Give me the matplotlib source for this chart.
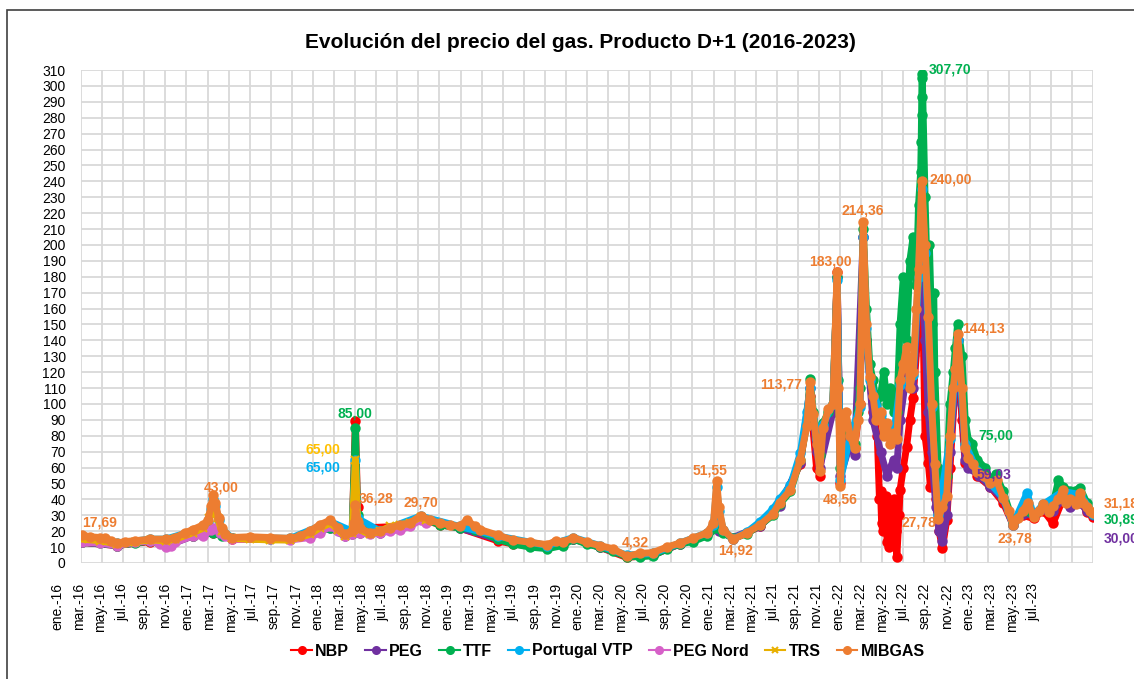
import numpy as np
import matplotlib.pyplot as plt
from matplotlib.patches import Rectangle

plt.rcParams['font.family'] = ['Liberation Sans', 'DejaVu Sans']

# x positions: months counted from the "ene.-16" axis label
mibgas_m = [2.3, 3.0, 4.0, 4.4, 5.0, 5.5, 6.3, 7.2, 8.6, 10.0, 10.9, 11.8, 12.5, 13.5, 13.9, 14.2, 14.4, 14.6,
            14.9, 15.2, 15.5, 16.1, 17.8, 19.6, 21.5, 22.4, 23.3, 24.2, 25.2, 25.9, 26.5, 27.2, 27.4, 27.5,
            27.7, 27.9, 28.8, 29.8, 30.7, 31.6, 32.5, 33.5, 34.4, 35.3, 36.2, 37.1, 37.8, 38.5, 39.0, 40.6,
            42.0, 43.6, 45.2, 46.0, 46.6, 47.6, 48.8, 50.0, 51.2, 52.5, 53.7, 54.9, 56.2, 57.4, 58.6, 59.9,
            60.5, 60.8, 61.0, 61.4, 62.3, 63.6, 64.8, 66.0, 66.6, 67.6, 68.5, 69.1, 69.4, 69.7, 70.0, 70.3,
            70.6, 71.1, 71.5, 71.9, 72.0, 72.2, 72.4, 72.7, 73.1, 73.5, 73.8, 74.0, 74.3, 74.6, 74.9, 75.2,
            75.5, 75.9, 76.2, 76.5, 76.8, 77.1, 77.4, 77.7, 78.0, 78.3, 78.6, 78.9, 79.2, 79.4, 79.7, 80.0,
            80.3, 80.6, 80.9, 81.2, 81.6, 82.0, 82.3, 82.6, 82.8, 83.0, 83.4, 83.7, 84.0, 84.4, 84.8, 85.4,
            86.0, 86.6, 87.2, 87.7, 88.1, 88.6, 89.0, 89.5, 90.0, 90.5, 90.9, 91.4, 91.8, 92.3, 92.7, 93.0,
            93.4, 93.9, 94.3, 94.6, 94.9, 95.2, 95.5]
mibgas = [17.69, 16.5, 16, 15.5, 14, 12.5, 13.5, 14, 15, 15, 16, 19, 21, 24, 27, 36, 43.0, 38,
          28, 22, 18, 16, 16.5, 16, 15.5, 17, 20, 24, 27, 22, 18, 20, 25, 36.28,
          26, 22, 19, 20, 22, 24, 25, 29.7, 27, 25, 24, 23, 27, 23, 21, 17.5,
          14.5, 13, 11.5, 14, 13, 16, 13, 11, 9, 4.32, 6, 6.5, 10, 12.5, 15.5, 19,
          25, 51.55, 35, 21, 14.92, 19, 24, 31, 38, 46, 65, 86, 113.77, 94, 75, 58,
          85, 97, 100, 183.0, 110, 48.56, 88, 95, 80, 72, 90, 100, 214.36, 150, 117, 105,
          90, 95, 80, 88, 75, 82, 78, 115, 125, 136, 110, 120, 160, 185, 240.0, 200,
          155, 100, 62, 27.78, 35, 42, 80, 110, 122, 144.13, 110, 72, 66, 62, 57, 55,
          50, 52, 41, 33, 23.78, 28, 33, 38, 29, 33, 37, 32, 36, 40, 46, 38,
          40, 37, 44, 38, 35, 33, 31.18]

ttf_m = [2.3, 4.0, 5.5, 7.2, 8.6, 10.0, 10.9, 12.5, 13.5, 14.4, 15.2, 16.1, 19.6, 21.5, 23.3, 25.2, 26.5,
         27.2, 27.5, 27.7, 27.9, 29.8, 31.6, 33.5, 35.3, 37.1, 38.5, 40.6, 42.0, 43.6, 45.2, 46.6, 47.6,
         48.8, 50.0, 51.2, 52.5, 53.7, 54.9, 56.2, 57.4, 58.6, 59.9, 60.8, 61.4, 62.3, 63.6, 64.8, 66.0,
         66.6, 67.6, 68.5, 69.1, 69.4, 69.7, 70.0, 70.3, 70.6, 71.1, 71.5, 71.9, 72.0, 72.2, 72.4, 73.1,
         73.5, 73.8, 74.0, 74.3, 74.6, 74.9, 75.2, 75.5, 75.9, 76.2, 76.5, 76.8, 77.1, 77.4, 77.7, 78.0,
         78.3, 78.6, 78.9, 79.2, 79.4, 79.6, 79.65, 79.68, 79.7, 79.72, 79.74, 80.0, 80.2, 80.4, 80.6,
         80.8, 80.9, 81.2, 81.6, 82.0, 82.3, 82.6, 82.8, 83.0, 83.4, 83.7, 84.0, 84.3, 84.8, 85.5, 86.0,
         86.5, 87.2, 88.1, 89.0, 90.0, 90.9, 91.8, 92.3, 92.7, 93.4, 94.3, 94.9, 95.5]
ttf = [13, 12.5, 11, 12.5, 14, 11, 14, 17, 18, 19, 17, 15.5, 15, 15, 18, 22, 18,
       19, 85.0, 30, 21, 20, 23, 28.5, 24, 22, 21, 15, 12, 10, 9, 11, 15,
       12, 10, 7.5, 4, 4, 4.5, 9, 12, 13.5, 17, 22, 19, 15.5, 18.5, 24, 30,
       37, 45, 65, 87, 116, 95, 80, 68, 88, 95, 100, 180, 115, 60, 90, 80,
       75, 95, 110, 210, 160, 125, 115, 100, 105, 120, 100, 110, 95, 95, 150, 180,
       140, 190, 205, 175, 225, 246, 265, 282, 293, 305, 307.7, 230, 180, 200, 150,
       170, 120, 60, 38, 55, 100, 120, 135, 150, 130, 90, 77, 75, 65, 60, 52,
       56, 45, 26, 33, 30, 36, 37, 52, 48, 45, 47, 38, 30.89]

nbp_m = [2.3, 5.5, 8.6, 10.0, 12.5, 14.4, 16.1, 21.5, 25.2, 27.2, 27.5, 27.7, 27.9, 31.6, 33.5, 35.3,
         37.1, 40.6, 42.0, 45.2, 47.6, 50.0, 52.5, 54.9, 57.4, 59.9, 60.8, 61.4, 62.3, 64.8, 66.6, 68.5,
         69.4, 70.0, 70.3, 70.6, 71.5, 71.9, 72.2, 72.4, 73.1, 73.5, 74.0, 74.3, 74.6, 75.2, 75.6, 75.8,
         75.9, 76.0, 76.1, 76.3, 76.4, 76.5, 76.7, 76.8, 76.9, 77.1, 77.2, 77.3, 77.4, 77.6, 77.7, 78.0,
         78.3, 78.6, 78.9, 79.4, 79.7, 80.0, 80.3, 80.5, 80.7, 81.0, 81.3, 81.6, 82.0, 82.3, 82.8, 83.0,
         83.4, 83.7, 84.0, 84.8, 86.0, 87.2, 88.1, 89.0, 90.0, 90.9, 91.8, 92.7, 93.4, 94.3, 94.9, 95.5]
nbp = [13, 11, 13.5, 11.5, 17, 19, 15, 15, 23, 20, 89, 35, 22, 23, 28, 24,
       22, 14, 12, 9.5, 15, 10, 3.5, 5, 12, 18, 23, 20, 15, 23, 37, 62,
       105, 60, 55, 80, 95, 183, 50, 85, 78, 72, 100, 205, 140, 95, 80, 40,
       45, 25, 20, 35, 42, 13, 10, 30, 35, 40, 25, 20, 4, 30, 46, 60,
       73, 90, 104, 150, 200, 80, 63, 48, 70, 40, 20, 9.5, 27, 60, 115, 140,
       90, 63, 65, 55, 48, 38, 24, 30, 28, 33, 25, 40, 38, 40, 32, 29]

peg_m = [2.3, 5.5, 8.6, 10.0, 12.5, 14.4, 16.1, 21.5, 25.2, 26.5, 27.2, 27.5, 27.7, 27.9, 29.8, 33.5,
         37.1, 40.6, 45.2, 47.6, 50.0, 52.5, 54.9, 57.4, 59.9, 60.5, 60.8, 61.0, 62.3, 64.8, 66.6, 68.5,
         69.4, 70.0, 70.3, 71.5, 71.9, 72.2, 73.1, 73.5, 74.3, 74.6, 75.2, 75.9, 76.5, 77.1, 77.4, 77.7,
         78.3, 78.9, 79.4, 79.7, 80.0, 80.3, 80.6, 81.0, 81.3, 81.6, 82.0, 82.3, 82.8, 83.0, 83.4, 83.7,
         84.0, 84.4, 85.0, 86.0, 87.2, 88.1, 89.0, 90.0, 90.9, 91.8, 92.7, 93.4, 94.3, 94.9, 95.5]
peg = [13, 11, 14, 10.5, 17, 20, 15.5, 15, 22, 17, 18, 30, 22, 19, 19, 28,
       22, 15, 10, 15, 10, 4.5, 5, 12, 18, 23, 25, 20, 16, 23, 36, 63,
       110, 70, 60, 95, 180, 55, 75, 68, 205, 140, 90, 70, 55, 65, 60, 90,
       120, 110, 170, 220, 140, 95, 70, 35, 20, 14, 30, 70, 115, 140, 100, 65,
       60, 59.03, 55, 48, 40, 24, 31, 30, 34, 33, 40, 35, 38, 33, 30.0]

pvtp_m = [2.3, 5.5, 8.6, 10.0, 12.5, 13.5, 13.9, 14.2, 14.4, 14.6, 14.9, 15.2, 16.1, 21.5, 25.2, 27.2,
          27.5, 27.7, 29.8, 33.5, 37.1, 40.6, 45.2, 47.6, 50.0, 52.5, 54.9, 57.4, 59.9, 60.5, 60.8, 61.0,
          61.4, 62.3, 63.6, 64.8, 66.0, 66.6, 67.6, 68.5, 69.1, 69.4, 70.0, 70.6, 71.5, 71.9, 72.2, 73.1,
          74.0, 74.3, 74.6, 74.9, 75.9, 77.1, 77.7, 78.9, 79.4, 79.7, 80.0, 80.6, 81.2, 82.3, 83.0, 83.7,
          84.8, 86.0, 87.2, 88.1, 89.4, 90.0, 90.9, 92.7, 94.3, 95.5]
pvtp = [16, 12.5, 15, 15, 20, 23, 26, 34, 40, 36, 27, 21, 16, 15.5, 26, 20,
        65.0, 28, 20, 29.5, 23, 17, 11, 16, 11, 5, 6, 12.5, 19, 24, 48, 33,
        21, 15, 19.5, 26, 34, 40, 49, 69, 95, 110, 78, 87, 100, 178, 52, 80,
        98, 205, 148, 115, 93, 80, 112, 118, 180, 235, 195, 98, 30, 78, 140, 75,
        58, 50, 41, 24, 44, 30, 37, 45, 43, 31]

pegnord_m = [2.3, 4.0, 5.5, 7.2, 8.6, 9.5, 10.0, 10.5, 10.9, 12.5, 13.5, 14.2, 14.5, 15.0, 15.5, 16.1,
             19.6, 21.5, 23.3, 24.2, 25.2, 25.9, 26.5, 27.2, 27.5, 27.9, 28.8, 29.8, 30.7, 31.6, 32.5,
             33.5, 34.0]
pegnord = [13, 12.5, 11, 13, 14, 12, 10, 10.5, 13, 17, 17, 21, 22, 19, 17, 15,
           15, 14.5, 16, 19, 23, 20, 17, 18, 30, 19, 18, 19, 20, 21, 23,
           27, 25]

trs_m = [2.3, 4.0, 5.5, 7.2, 8.6, 10.0, 10.9, 12.5, 13.5, 14.0, 14.4, 14.8, 15.2, 16.1, 17.8, 19.6,
         21.5, 23.3, 24.2, 25.2, 25.9, 26.5, 27.2, 27.5, 27.7, 27.9, 28.8, 29.8, 30.7, 31.6, 32.5, 33.5,
         34.0]
trs = [15, 14, 12, 13.5, 14.5, 14, 15, 19, 22, 28, 33, 28, 20, 15.5, 15, 14.5,
       14.5, 18, 22, 25, 21, 17, 19, 65.0, 26, 21, 18, 20, 23, 24, 25, 29,
       27]

tick_labels = []
for yr in range(16, 24):
    for mon in ['ene.', 'mar.', 'may.', 'jul.', 'sep.', 'nov.']:
        tick_labels.append(f'{mon}-{yr}')
tick_labels = tick_labels[:46]

series = [
    ('NBP', nbp_m, nbp, '#FF0000', 'o'),
    ('PEG', peg_m, peg, '#7030A0', 'o'),
    ('TTF', ttf_m, ttf, '#00B050', 'o'),
    ('Portugal VTP', pvtp_m, pvtp, '#00B0F0', 'o'),
    ('PEG Nord', pegnord_m, pegnord, '#D660C8', 'o'),
    ('TRS', trs_m, trs, '#E8B000', 'x'),
    ('MIBGAS', mibgas_m, mibgas, '#ED7D31', 'o'),
]

fig = plt.figure(figsize=(11.34, 6.79), dpi=100)
ax = fig.add_axes([81 / 1134, 1 - 563 / 679, (1093 - 81) / 1134, (563 - 70) / 679])

xmin, xmax = 2.21, 95.48
for name, xs, ys, col, mk in series:
    ax.plot(xs, ys, color=col, lw=5, marker=mk, ms=6, mew=1.5,
            solid_joinstyle='round', solid_capstyle='round', zorder=3)

# legend handles (thin line + marker)
handles = [plt.Line2D([], [], color=c, lw=1.5, marker=m, ms=5, mew=1.5) for _, _, _, c, m in series]

ax.set_yticks(np.arange(0, 311, 10))
ax.set_xticks([])
ax.set_xticks(np.linspace(xmin, xmax, 49), minor=True)
ax.set_xlim(xmin, xmax)
ax.set_ylim(0, 310)
ax.tick_params(axis='x', which='both', length=0, labelbottom=False)
ax.tick_params(axis='y', length=0, pad=11, labelsize=10)
ax.grid(axis='y', which='major', color='#D9D9D9', lw=1.3)
ax.grid(axis='x', which='minor', color='#D9D9D9', lw=1.3)
ax.set_axisbelow(True)
for s in ax.spines.values():
    s.set_visible(False)

# month labels every two months (placed by hand since several fall left of the plot area)
for i, lab in enumerate(tick_labels):
    ax.annotate(lab, (2 * i, 0), xytext=(0, -20), textcoords='offset pixels', rotation=90,
                ha='center', va='top', fontsize=10, annotation_clip=False)

# data labels: (x, y, text, colour, dx px, dy px, ha)
labels = [
    (mibgas_m[0], mibgas[0], '17,69', '#ED7D31', 0, 12, 'left'),
    (14.4, 43.0, '43,00', '#ED7D31', 8, 7, 'center'),
    (27.5, 85.0, '85,00', '#00B050', 0, 14, 'center'),
    (27.5, 65.0, '65,00', '#FFC000', -15, 10, 'right'),
    (27.5, 65.0, '65,00', '#00B0F0', -15, -8, 'right'),
    (27.5, 36.28, '36,28', '#ED7D31', 3, 7, 'left'),
    (33.5, 29.7, '29,70', '#ED7D31', 0, 13, 'center'),
    (52.5, 4.32, '4,32', '#ED7D31', 9, 14, 'center'),
    (60.8, 51.55, '51,55', '#ED7D31', -7, 11, 'center'),
    (62.3, 14.92, '14,92', '#ED7D31', 3, -11, 'center'),
    (69.4, 113.77, '113,77', '#ED7D31', -8, -2, 'right'),
    (71.9, 183.0, '183,00', '#ED7D31', -7, 10, 'center'),
    (72.2, 48.56, '48,56', '#ED7D31', 0, -14, 'center'),
    (74.3, 214.36, '214,36', '#ED7D31', 0, 12, 'center'),
    (79.74, 307.7, '307,70', '#00B050', 6, 4, 'left'),
    (79.7, 240.0, '240,00', '#ED7D31', 8, 2, 'left'),
    (83.0, 144.13, '144,13', '#ED7D31', 5, 5, 'left'),
    (81.2, 27.78, '27,78', '#ED7D31', -2, -4, 'right'),
    (84.0, 77, '75,00', '#00B050', 10, 5, 'left'),
    (84.4, 59.03, '59,03', '#7030A0', 4, -5, 'left'),
    (88.1, 23.78, '23,78', '#ED7D31', 2, -13, 'center'),
    (95.5, 31.18, '31,18', '#ED7D31', 10, 10, 'left'),
    (95.5, 30.89, '30,89', '#00B050', 10, -6, 'left'),
    (95.5, 30.0, '30,00', '#7030A0', 10, -23, 'left'),
]
for x, y, t, c, dx, dy, ha in labels:
    ax.annotate(t, (x, y), xytext=(dx, dy), textcoords='offset pixels', ha=ha, va='center',
                color=c, fontsize=10, fontweight='bold', annotation_clip=False, zorder=5)

fig.text(580 / 1134, 1 - 43 / 679, 'Evolución del precio del gas. Producto D+1 (2016-2023)',
         ha='center', va='center', fontsize=15, fontweight='bold')

fig.legend(handles, [s[0] for s in series], loc='center', bbox_to_anchor=(608 / 1134, 1 - 651 / 679),
           ncol=7, frameon=False, handlelength=1.3, handletextpad=0.2, columnspacing=1.0,
           prop={'weight': 'bold', 'size': 11.5})

fig.add_artist(Rectangle((7 / 1134, -0.1), 1.2, 1.1 - 10 / 679, transform=fig.transFigure,
                         fill=False, edgecolor='#404040', lw=1.2))

fig.savefig('out.png', dpi=100)
